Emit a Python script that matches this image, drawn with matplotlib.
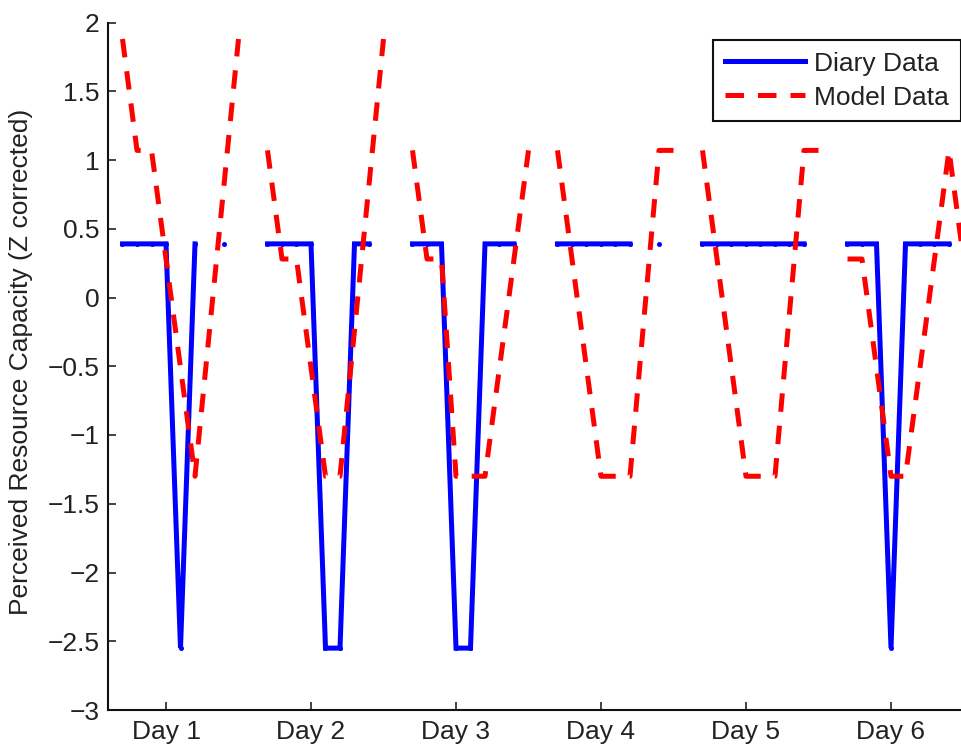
import numpy as np
import matplotlib
matplotlib.use("Agg")
import matplotlib.pyplot as plt

plt.rcParams['font.family'] = ['Liberation Sans', 'DejaVu Sans']

days = [1, 2, 3, 4, 5, 6]
day_labels = ['Day 1', 'Day 2', 'Day 3', 'Day 4', 'Day 5', 'Day 6']
# sample slots within each day (fraction of a day relative to the day tick)
slot_offsets = [-0.3, -0.2, -0.1, 0.0, 0.1, 0.2, 0.3, 0.4, 0.5, 0.6]

nan = np.nan
diary = {
    1: [0.39, 0.39, 0.39, 0.39, -2.55, 0.39, nan, 0.39, nan, nan],
    2: [0.39, 0.39, 0.39, 0.39, -2.55, -2.55, 0.39, 0.39, nan, nan],
    3: [0.39, 0.39, 0.39, -2.55, -2.55, 0.39, 0.39, 0.39, nan, nan],
    4: [0.39, 0.39, 0.39, 0.39, 0.39, 0.39, nan, 0.39, nan, nan],
    5: [0.39, 0.39, 0.39, 0.39, 0.39, 0.39, 0.39, 0.39, nan, nan],
    6: [0.39, 0.39, 0.39, -2.55, 0.39, 0.39, 0.39, 0.39, nan, nan],
}
model = {
    1: [1.88, 1.07, 1.07, 0.28, -0.51, -1.30, -0.24, 0.82, 1.88, nan],
    2: [1.07, 0.28, 0.28, -0.51, -1.30, -1.30, -0.24, 0.82, 1.88, nan],
    3: [1.07, 0.28, 0.28, -1.30, -1.30, -1.30, -0.51, 0.28, 1.07, nan],
    4: [1.07, 0.28, -0.51, -1.30, -1.30, -1.30, -0.11, 1.07, 1.07, nan],
    5: [1.07, 0.28, -0.51, -1.30, -1.30, -1.30, -0.11, 1.07, 1.07, nan],
    6: [0.28, 0.28, -0.51, -1.30, -1.30, -0.51, 0.28, 1.07, 0.28, nan],
}

x = [d + s for d in days for s in slot_offsets]
y_diary = [v for d in days for v in diary[d]]
y_model = [v for d in days for v in model[d]]

W, H = 962, 747
fig = plt.figure(figsize=(W / 100, H / 100), dpi=100)
left_px, right_px, top_px, bot_px = 108, 963.5, 22.5, 710
ax = fig.add_axes([left_px / W, 1 - bot_px / H, (right_px - left_px) / W, (bot_px - top_px) / H])

lw = 3.6
ax.plot(x, y_diary, color=(0, 0, 1), lw=lw, solid_joinstyle='miter',
        marker='o', markersize=lw, markeredgewidth=0, label='Diary Data')
ax.plot(x, y_model, color=(1, 0, 0), lw=lw, linestyle=(0, (3.7, 2.8)),
        dash_capstyle='butt', label='Model Data')

ax.set_xlim(0.6, 6.5)
ax.set_ylim(-3, 2)
ax.set_xticks(days)
ax.set_xticklabels(day_labels)
ax.set_yticks([-3, -2.5, -2, -1.5, -1, -0.5, 0, 0.5, 1, 1.5, 2])
ax.set_yticklabels(['\u22123', '\u22122.5', '\u22122', '\u22121.5', '\u22121', '\u22120.5',
                    '0', '0.5', '1', '1.5', '2'])
ax.tick_params(direction='in', length=6, width=1.2, labelsize=19, colors='#222222', pad=6)
ax.tick_params(axis='x', pad=7)
for s in ['top', 'right']:
    ax.spines[s].set_visible(False)
for s in ['left', 'bottom']:
    ax.spines[s].set_linewidth(1.5)
    ax.spines[s].set_color('#111111')

ax.set_ylabel('Perceived Resource Capacity (Z corrected)', fontsize=19, color='#222222')
ax.yaxis.set_label_coords((33 - left_px) / (right_px - left_px), (bot_px - 362) / (bot_px - top_px))

leg = ax.legend(loc='upper right', bbox_to_anchor=(0.9965, 0.975), borderaxespad=0,
                fontsize=19, frameon=True, fancybox=False, edgecolor='#111111',
                framealpha=1, handlelength=3.0, handletextpad=0.35, labelspacing=0.38,
                borderpad=0.45)
leg.get_frame().set_linewidth(1.5)
for t in leg.get_texts():
    t.set_color('#222222')

fig.savefig('out.png', dpi=100)
